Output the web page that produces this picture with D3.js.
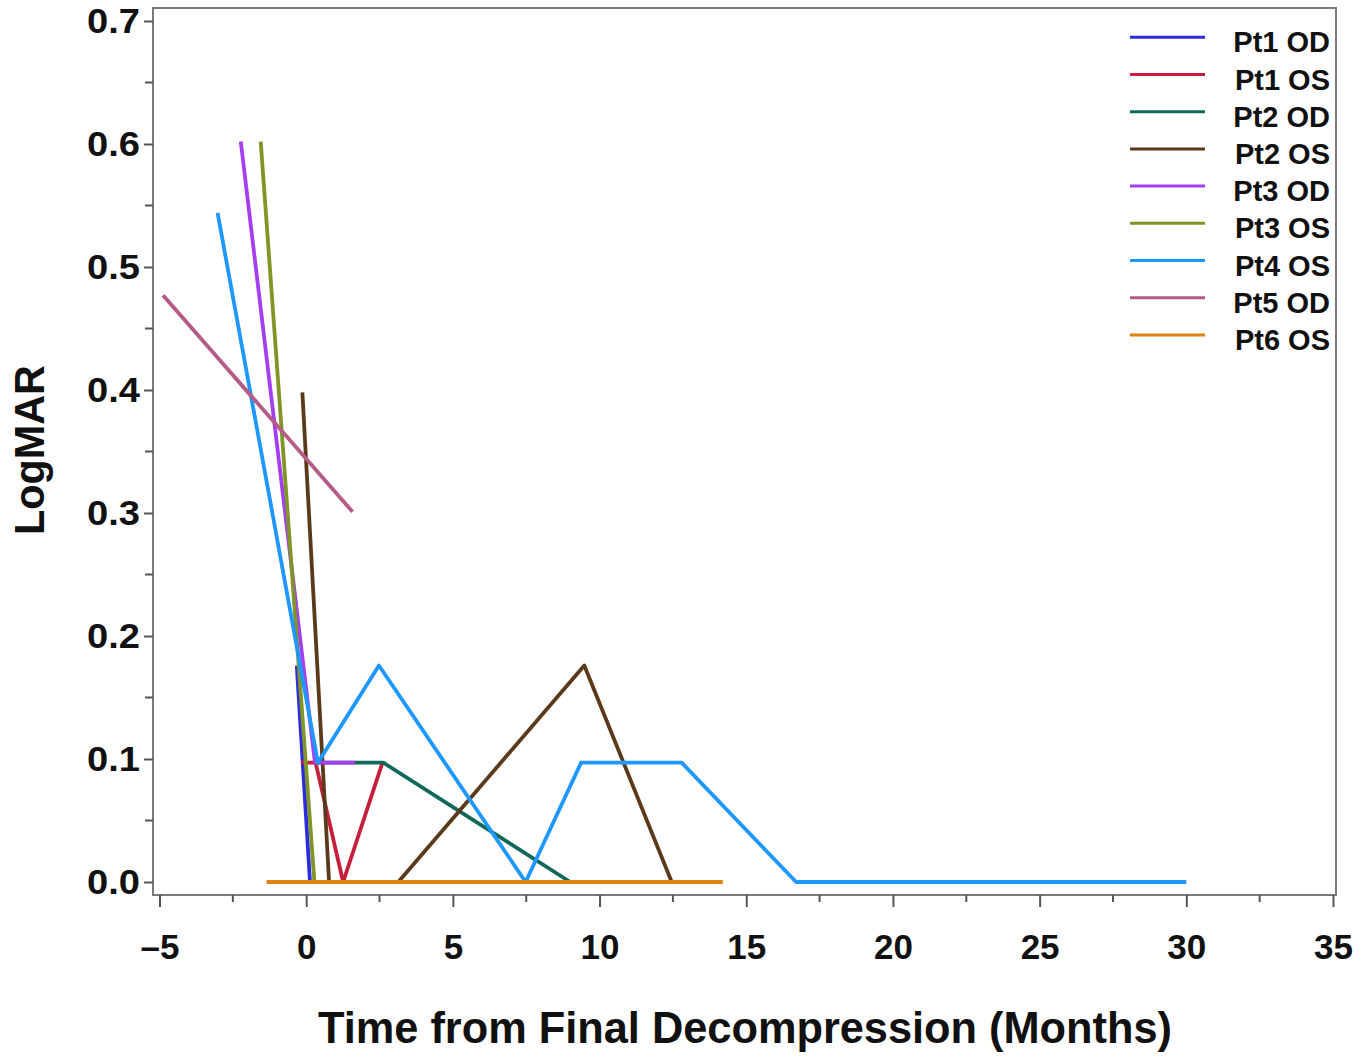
<!DOCTYPE html>
<html lang="en">
<head>
  <meta charset="UTF-8">
  <title>LogMAR vs Time from Final Decompression</title>
  <style>
    body {
      margin: 0;
      background: #fff;
    }
    svg {
      display: block;
      font-family: 'Liberation Sans', Arial, sans-serif;
      font-weight: bold;
    }
  </style>
</head>
<body>

<svg width="1369" height="1057"></svg>

<script src="https://d3js.org/d3.v7.min.js"></script>
<script>
// series names and colours, in legend order
const seriesNames = ["Pt1 OD", "Pt1 OS", "Pt2 OD", "Pt2 OS", "Pt3 OD", "Pt3 OS", "Pt4 OS", "Pt5 OD", "Pt6 OS"];
const seriesColors = ["#2b2bdf", "#c61f3c", "#10685a", "#5b3a1c", "#a43ff0", "#7f9526", "#1e98ff", "#b45b88", "#e0820e"];

// [months, logMAR] per eye
const pt1OD = [[-0.32, 0.176], [0.13, 0]];
const pt1OS = [[-0.17, 0.097], [0.32, 0.097], [1.26, 0], [2.6, 0.097]];
const pt2OD = [[0.3, 0.097], [2.63, 0.097], [9.0, 0]];
const pt2OS = [[-0.13, 0.398], [0.78, 0], [3.14, 0], [9.48, 0.176], [12.46, 0]];
const pt3OD = [[-2.23, 0.602], [0.3, 0.097], [1.66, 0.097]];
const pt3OS = [[-1.55, 0.602], [0.28, 0]];
const pt4OS = [[-3.02, 0.544], [0.4, 0.097], [2.48, 0.176], [7.48, 0], [9.37, 0.097], [12.8, 0.097], [16.7, 0], [30, 0]];
const pt5OD = [[-4.88, 0.477], [1.58, 0.301]];
const pt6OS = [[-1.35, 0], [14.2, 0]];

const xTicks = [-5, 0, 5, 10, 15, 20, 25, 30, 35];
const xTickLabels = ["\u20135", "0", "5", "10", "15", "20", "25", "30", "35"];
const yTicks = [0, 0.1, 0.2, 0.3, 0.4, 0.5, 0.6, 0.7];
const yTickLabels = ["0.0", "0.1", "0.2", "0.3", "0.4", "0.5", "0.6", "0.7"];

const allSeries = [pt1OD, pt1OS, pt2OD, pt2OS, pt3OD, pt3OS, pt4OS, pt5OD, pt6OS];

const svg = d3.select("svg");

// plot frame
const frame = { left: 153, right: 1336, top: 8, bottom: 895 };

const x = d3.scaleLinear().domain([-5, 35]).range([159.5, 1333]);
const y = d3.scaleLinear().domain([0, 0.7]).range([882, 21]);

svg.append("rect")
  .attr("x", frame.left).attr("y", frame.top)
  .attr("width", frame.right - frame.left)
  .attr("height", frame.bottom - frame.top)
  .attr("fill", "none")
  .attr("stroke", "#7a7a7a")
  .attr("stroke-width", 2);

// x axis
const xAxis = svg.append("g")
  .attr("transform", `translate(0,${frame.bottom})`)
  .call(d3.axisBottom(x).tickValues(xTicks).tickSize(12).tickPadding(27)
    .tickFormat((d, i) => xTickLabels[i]));
xAxis.select(".domain").remove();
xAxis.selectAll(".tick line").attr("stroke", "#555").attr("stroke-width", 2);
xAxis.selectAll(".tick text")
  .attr("font-size", 35)
  .attr("font-family", "'Liberation Sans', Arial, sans-serif")
  .attr("font-weight", "bold")
  .attr("fill", "#111");
svg.append("g")
  .selectAll("line")
  .data(d3.range(-2.5, 35, 5))
  .join("line")
  .attr("x1", d => x(d)).attr("x2", d => x(d))
  .attr("y1", frame.bottom).attr("y2", frame.bottom + 7)
  .attr("stroke", "#555").attr("stroke-width", 2);

// y axis
const yAxis = svg.append("g")
  .attr("transform", `translate(${frame.left},0)`)
  .call(d3.axisLeft(y).tickValues(yTicks).tickSize(9).tickPadding(4)
    .tickFormat((d, i) => yTickLabels[i]));
yAxis.select(".domain").remove();
yAxis.selectAll(".tick line").attr("stroke", "#555").attr("stroke-width", 2);
yAxis.selectAll(".tick text")
  .attr("font-size", 35)
  .attr("font-family", "'Liberation Sans', Arial, sans-serif")
  .attr("font-weight", "bold")
  .attr("fill", "#111")
  .attr("textLength", 53)
  .attr("lengthAdjust", "spacingAndGlyphs");
svg.append("g")
  .selectAll("line")
  .data(d3.range(0.05, 0.7, 0.1))
  .join("line")
  .attr("x1", frame.left - 8).attr("x2", frame.left)
  .attr("y1", d => y(d)).attr("y2", d => y(d))
  .attr("stroke", "#555").attr("stroke-width", 2);

// axis titles
svg.append("text")
  .attr("x", 745).attr("y", 1043)
  .attr("text-anchor", "middle")
  .attr("font-size", 44)
  .attr("fill", "#111")
  .attr("textLength", 854)
  .attr("lengthAdjust", "spacingAndGlyphs")
  .text("Time from Final Decompression (Months)");

svg.append("text")
  .attr("transform", "translate(44,450) rotate(-90)")
  .attr("text-anchor", "middle")
  .attr("font-size", 42)
  .attr("fill", "#111")
  .attr("textLength", 170)
  .attr("lengthAdjust", "spacingAndGlyphs")
  .text("LogMAR");

// series lines
const line = d3.line().x(d => x(d[0])).y(d => y(d[1]));
svg.append("g")
  .selectAll("path")
  .data(allSeries)
  .join("path")
  .attr("d", line)
  .attr("fill", "none")
  .attr("stroke", (d, i) => seriesColors[i])
  .attr("stroke-width", 3.8)
  .attr("stroke-linejoin", "round");

// legend
const legend = svg.append("g")
  .selectAll("g")
  .data(seriesNames)
  .join("g")
  .attr("transform", (d, i) => `translate(0,${37.3 + i * 37.2})`);
legend.append("line")
  .attr("x1", 1130).attr("x2", 1205)
  .attr("stroke", (d, i) => seriesColors[i])
  .attr("stroke-width", 3);
legend.append("text")
  .attr("x", 1330).attr("y", 15)
  .attr("text-anchor", "end")
  .attr("font-size", 29)
  .attr("fill", "#111")
  .text(d => d);
</script>

</body>
</html>
